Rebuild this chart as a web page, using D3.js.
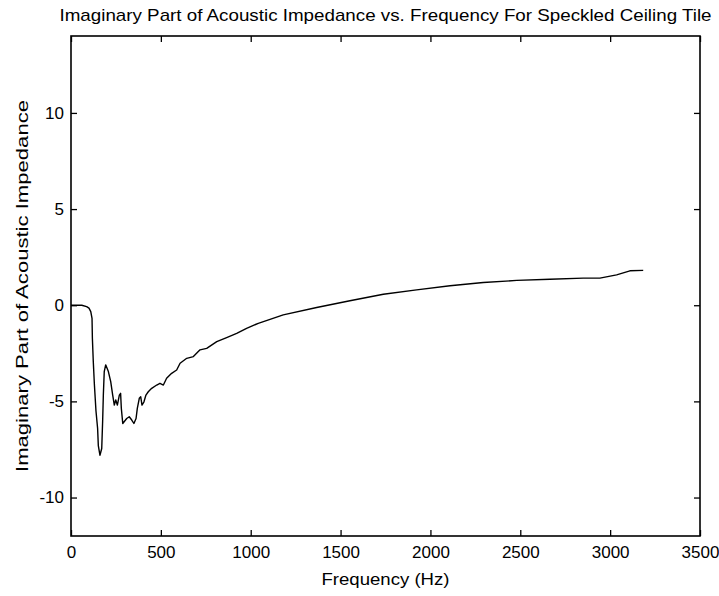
<!DOCTYPE html>
<html>
<head>
<meta charset="utf-8">
<script src="https://cdn.jsdelivr.net/npm/d3@7"></script>
<style>
  body { margin: 0; background: #fff; }
  text { font-family: "Liberation Sans", Arial, sans-serif; fill: #000; }
</style>
</head>
<body>
<div id="chart"></div>
<script>
// frequency (Hz) and imaginary part
const freq = [0, 30, 60, 87, 100, 110, 117, 119, 124, 130, 139, 148, 152, 161, 171, 176, 180, 185, 193,
    208, 221, 232, 241, 249, 258, 269, 276, 280, 288, 310, 324, 338, 350, 362, 369, 380, 388, 395,
    406, 417, 430, 449, 477, 495, 514, 532, 560, 588, 607, 644, 681, 718, 755, 811, 866, 922, 977,
    1042, 1181, 1367, 1552, 1738, 1923, 2109, 2294, 2480, 2665, 2850, 2943, 3036, 3110, 3184];
const imag = [0, 0, 0, -0.07, -0.15, -0.33, -0.68, -1.72, -2.93, -4.1, -5.5, -6.4, -7.3, -7.8, -7.45,
    -6.05, -4.65, -3.45, -3.1, -3.45, -3.97, -4.67, -5.19, -4.93, -5.19, -4.67, -4.58, -5.36, -6.15,
    -5.89, -5.8, -5.97, -6.15, -5.89, -5.36, -4.84, -4.76, -5.19, -5.02, -4.67, -4.5, -4.32, -4.15,
    -4.06, -4.15, -3.8, -3.54, -3.37, -3.02, -2.76, -2.67, -2.32, -2.24, -1.89, -1.68, -1.46, -1.2,
    -0.94, -0.5, -0.12, 0.23, 0.57, 0.8, 1.01, 1.18, 1.29, 1.35, 1.41, 1.41, 1.58, 1.79, 1.81];

const xTicks = [0, 500, 1000, 1500, 2000, 2500, 3000, 3500];
const yTicks = [-10, -5, 0, 5, 10];

const titleText = "Imaginary Part of Acoustic Impedance vs. Frequency For Speckled Ceiling Tile";
const xLabel = "Frequency (Hz)";
const yLabel = "Imaginary Part of Acoustic Impedance";

const width = 719, height = 596;
const m = { left: 71, right: 700, top: 36, bottom: 536 };

const svg = d3.select("#chart").append("svg")
    .attr("width", width)
    .attr("height", height);

const x = d3.scaleLinear().domain([0, 3500]).range([m.left, m.right]);
const y = d3.scaleLinear().domain([-12, 14]).range([m.bottom, m.top]);

const plain = d => String(d); // keep the plain hyphen minus

// ticks point inward on all four sides
svg.append("g")
    .attr("transform", `translate(0,${m.bottom})`)
    .call(d3.axisBottom(x).tickValues(xTicks).tickSize(-6).tickPadding(10).tickFormat(plain))
    .call(g => g.select(".domain").remove());
svg.append("g")
    .attr("transform", `translate(0,${m.top})`)
    .call(d3.axisTop(x).tickValues(xTicks).tickSize(-6).tickFormat(""))
    .call(g => g.select(".domain").remove());
svg.append("g")
    .attr("transform", `translate(${m.left},0)`)
    .call(d3.axisLeft(y).tickValues(yTicks).tickSize(-6).tickPadding(7).tickFormat(plain))
    .call(g => g.select(".domain").remove());
svg.append("g")
    .attr("transform", `translate(${m.right},0)`)
    .call(d3.axisRight(y).tickValues(yTicks).tickSize(-6).tickFormat(""))
    .call(g => g.select(".domain").remove());

svg.selectAll(".tick line").attr("stroke", "#000").attr("stroke-width", 1.3);
svg.selectAll(".tick text").style("font-size", "17px").attr("fill", "#000");

// frame
svg.append("rect")
    .attr("x", m.left).attr("y", m.top)
    .attr("width", m.right - m.left).attr("height", m.bottom - m.top)
    .attr("fill", "none").attr("stroke", "#000").attr("stroke-width", 1.6);

const line = d3.line()
    .x((d, i) => x(freq[i]))
    .y(d => y(d));

svg.append("path")
    .datum(imag)
    .attr("d", line)
    .attr("fill", "none")
    .attr("stroke", "#000")
    .attr("stroke-width", 1.4)
    .attr("stroke-linejoin", "round");

svg.append("text")
    .attr("x", (m.left + m.right) / 2).attr("y", 21)
    .attr("text-anchor", "middle")
    .attr("textLength", 652).attr("lengthAdjust", "spacingAndGlyphs")
    .style("font-size", "17px")
    .text(titleText);

svg.append("text")
    .attr("x", (m.left + m.right) / 2).attr("y", 585)
    .attr("text-anchor", "middle")
    .attr("textLength", 128).attr("lengthAdjust", "spacingAndGlyphs")
    .style("font-size", "17px")
    .text(xLabel);

svg.append("text")
    .attr("transform", `translate(28,${(m.top + m.bottom) / 2}) rotate(-90)`)
    .attr("text-anchor", "middle")
    .attr("textLength", 372).attr("lengthAdjust", "spacingAndGlyphs")
    .style("font-size", "17px")
    .text(yLabel);
</script>
</body>
</html>
